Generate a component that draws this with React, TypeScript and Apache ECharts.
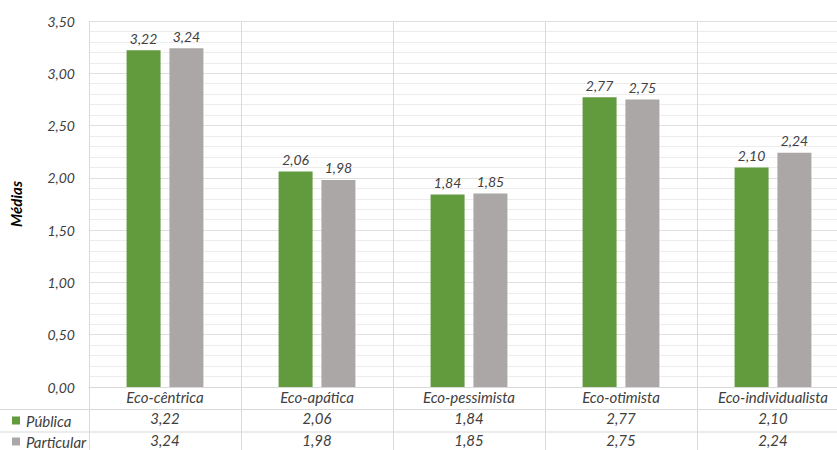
import React, { useEffect, useRef } from "react";
import * as echarts from "echarts";

const categories = ["Eco-cêntrica", "Eco-apática", "Eco-pessimista", "Eco-otimista", "Eco-individualista"];
const seriesNames = ["Pública", "Particular"];
const publica = [3.22, 2.06, 1.84, 2.77, 2.1];
const particular = [3.24, 1.98, 1.85, 2.75, 2.24];
const colors = ["#629B3E", "#ABA7A6"];
const yAxisName = "Médias";

const fmt = (v: number) => v.toFixed(2).replace(".", ",");
const FONT = "Lato, 'Open Sans', sans-serif";
const TXT = "#404040";
const LINE = "#d9d9d9";

export default function App() {
  const ref = useRef<HTMLDivElement>(null);
  useEffect(() => {
    if (!ref.current) return;
    const chart = echarts.init(ref.current, undefined, { renderer: "svg" });
    const rowY = [409.5, 432];
    const rowMid = [420.5, 441.5];
    const labelStyle = {
      fontFamily: FONT,
      fontStyle: "italic",
      fontSize: 14,
      color: TXT,
    };
    const tableStyle = { ...labelStyle, fontSize: 15 };
    const legendGraphics: any[] = [];
    seriesNames.forEach((name, i) => {
      legendGraphics.push({
        type: "rect",
        shape: { x: 12, y: rowMid[i] - 4, width: 8, height: 8 },
        style: { fill: colors[i] },
        silent: true,
      });
      legendGraphics.push({
        type: "text",
        x: 26,
        y: rowMid[i],
        style: {
          text: name,
          fontFamily: FONT,
          fontStyle: "italic",
          fontSize: 15,
          lineHeight: 15,
          fill: TXT,
          verticalAlign: "middle",
          align: "left",
        },
        silent: true,
      });
    });
    chart.setOption({
      animation: false,
      backgroundColor: "#ffffff",
      textStyle: { fontFamily: FONT },
      grid: [
        { left: 89, top: 21, right: 0, height: 366, containLabel: false },
        { left: 89, top: 387, right: 0, height: 80, containLabel: false },
      ],
      xAxis: [
        {
          type: "category",
          gridIndex: 0,
          data: categories,
          axisLine: { show: true, lineStyle: { color: LINE } },
          axisTick: { show: false },
          splitLine: { show: true, lineStyle: { color: LINE } },
          axisLabel: {
            margin: -1,
            interval: 0,
            formatter: (_v: string, i: number) =>
              `{c|${categories[i]}}\n{v|${fmt(publica[i])}}\n{v|${fmt(particular[i])}}`,
            rich: {
              c: { ...tableStyle, lineHeight: 21.4 },
              v: { ...tableStyle, lineHeight: 21.4 },
            },
          },
        },
        {
          type: "category",
          gridIndex: 1,
          data: categories,
          axisLine: { show: false },
          axisTick: { show: false },
          axisLabel: { show: false },
          splitLine: { show: true, lineStyle: { color: LINE } },
        },
      ],
      yAxis: [
        {
          type: "value",
          gridIndex: 0,
          min: 0,
          max: 3.5,
          interval: 0.5,
          name: yAxisName,
          nameLocation: "middle",
          nameGap: 66,
          nameTextStyle: { fontFamily: FONT, fontStyle: "italic", fontWeight: "bold", fontSize: 15, color: "#000" },
          axisLine: { show: false },
          axisTick: { show: false },
          axisLabel: {
            margin: 14,
            formatter: (v: number) => fmt(v),
            ...labelStyle,
          },
          splitLine: { show: true, lineStyle: { color: "#e0e0e0" } },
          minorSplitLine: { show: true, lineStyle: { color: "#ececec" } },
          minorTick: { show: false, splitNumber: 5 },
        },
        {
          type: "value",
          gridIndex: 1,
          show: false,
        },
      ],
      series: [publica, particular].map((data, i) => ({
        name: seriesNames[i],
        type: "bar",
        data,
        barWidth: 34,
        barGap: "26%",
        itemStyle: { color: colors[i] },
        label: {
          show: true,
          position: "top",
          distance: 5,
          formatter: (p: any) => fmt(p.value),
          ...labelStyle,
        },
      })),
      graphic: [
        ...rowY.map((y) => ({
          type: "line",
          shape: { x1: 0, y1: y, x2: 849, y2: y },
          style: { stroke: LINE, lineWidth: 1 },
          silent: true,
        })),
        ...legendGraphics,
      ],
    });
    return () => chart.dispose();
  }, []);
  return (
    <div
      ref={ref}
      style={{ position: "fixed", left: 0, top: 0, width: 849, height: 450 }}
    />
  );
}
